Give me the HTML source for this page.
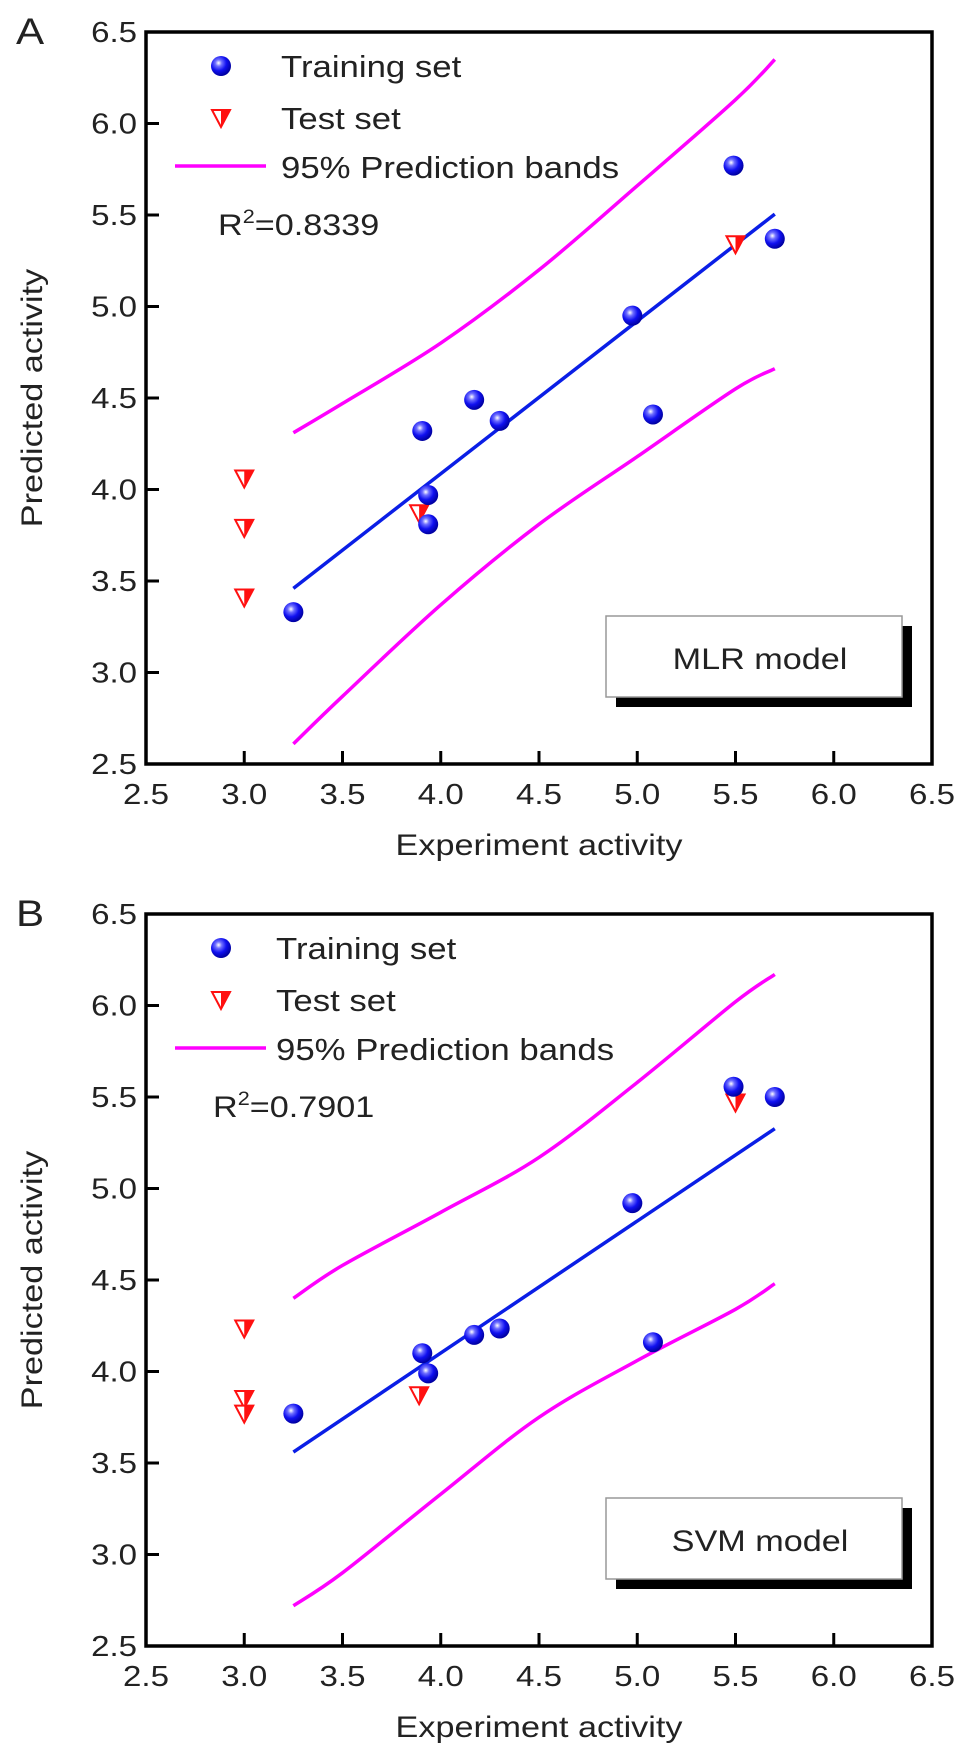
<!DOCTYPE html>
<html><head><meta charset="utf-8"><style>
html,body{margin:0;padding:0;background:#fff;}
svg{display:block;font-family:"Liberation Sans",Arial,sans-serif;}
</style></head><body>
<svg id="chart" width="969" height="1754" viewBox="0 0 969 1754" xmlns="http://www.w3.org/2000/svg">
<defs>
<radialGradient id="sph" cx="0.38" cy="0.35" r="0.65">
<stop offset="0" stop-color="#ffffff"/><stop offset="0.25" stop-color="#6f6fff"/><stop offset="0.6" stop-color="#1010f0"/><stop offset="1" stop-color="#0000a0"/>
</radialGradient>
</defs>
</svg>
<script>
// ---- data ----
const xTicks = [2.5,3.0,3.5,4.0,4.5,5.0,5.5,6.0,6.5];
const yTicks = [2.5,3.0,3.5,4.0,4.5,5.0,5.5,6.0,6.5];
const tickLabels = ["2.5","3.0","3.5","4.0","4.5","5.0","5.5","6.0","6.5"];

const aTrainX = [3.25,3.906,3.936,3.936,4.17,4.30,4.975,5.08,5.49,5.70];
const aTrainY = [3.33,4.32,3.97,3.81,4.49,4.375,4.95,4.41,5.77,5.37];
const aTestX = [3.0,3.0,3.0,3.89,5.5];
const aTestY = [4.06,3.79,3.41,3.87,5.34];
const aFitX = [3.25,5.70];
const aFitY = [3.46,5.505];
const aBandX = [3.25,3.5,4.0,4.5,5.0,5.5,5.7];
const aUpperY = [4.31,4.47,4.80,5.20,5.66,6.13,6.35];
const aLowerY = [2.61,2.87,3.37,3.81,4.18,4.55,4.66];

const bTrainX = [3.25,3.906,3.936,4.17,4.30,4.975,5.08,5.49,5.70];
const bTrainY = [3.77,4.10,3.99,4.20,4.235,4.92,4.16,5.556,5.50];
const bTestX = [3.0,3.0,3.0,3.89,5.5];
const bTestY = [4.235,3.85,3.77,3.87,5.47];
const bFitX = [3.25,5.70];
const bFitY = [3.56,5.327];
const bBandX = [3.25,3.5,4.0,4.5,5.0,5.5,5.7];
const bUpperY = [4.40,4.58,4.87,5.17,5.58,6.02,6.17];
const bLowerY = [2.72,2.90,3.33,3.75,4.06,4.34,4.48];

// ---- drawing ----
const NS = "http://www.w3.org/2000/svg";
const svg = document.getElementById("chart");
const SX = 1.14;
function mk(tag, attrs, parent, text){
  const e = document.createElementNS(NS, tag);
  for (const k in attrs) e.setAttribute(k, attrs[k]);
  if (text !== undefined) e.textContent = text;
  (parent||svg).appendChild(e);
  return e;
}
function txt(x, y, size, anchor, parent, text, rot){
  const tf = rot ? `translate(${x},${y}) rotate(-90) scale(${SX},1)` : `translate(${x},${y}) scale(${SX},1)`;
  return mk("text", {x:0, y:0, "font-size":size, "text-anchor":anchor, fill:"#222", transform:tf}, parent, text);
}
function smooth(pts){
  let d = `M${pts[0][0]},${pts[0][1]}`;
  for (let i=0;i<pts.length-1;i++){
    const p0 = pts[Math.max(i-1,0)], p1 = pts[i], p2 = pts[i+1], p3 = pts[Math.min(i+2,pts.length-1)];
    const c1x = p1[0]+(p2[0]-p0[0])/6, c1y = p1[1]+(p2[1]-p0[1])/6;
    const c2x = p2[0]-(p3[0]-p1[0])/6, c2y = p2[1]-(p3[1]-p1[1])/6;
    d += ` C${c1x.toFixed(1)},${c1y.toFixed(1)} ${c2x.toFixed(1)},${c2y.toFixed(1)} ${p2[0].toFixed(1)},${p2[1].toFixed(1)}`;
  }
  return d;
}
const L = 146, R = 932, PH = 732;
function xs(v){ return L + (v-2.5)*(R-L)/4; }

function panel(cfg){
  const top = cfg.top;
  const ys = v => top + (6.5-v)*PH/4;
  const g = mk("g", {});
  
  

  const letter = txt(16, top+12, 37, "start", g, cfg.letter);
  
  

  [cfg.upper, cfg.lower].forEach((arr, i) => {
    const pts = cfg.bandX.map((x,j) => [xs(x), ys(arr[j])]);
    const pl = mk("path", {d:smooth(pts), fill:"none", stroke:"#ff00ff", "stroke-width":3.5}, g);
    
    
  });
  const fit = mk("line", {x1:xs(cfg.fitX[0]), y1:ys(cfg.fitY[0]), x2:xs(cfg.fitX[1]), y2:ys(cfg.fitY[1]), stroke:"#0a1ee6", "stroke-width":3.5}, g);
  
  

  function tri(cx, cy, parent){
    const t = mk("g", {}, parent);
    mk("polygon", {points:`${cx-9},${cy-8} ${cx+9},${cy-8} ${cx},${cy+9}`, fill:"#fff", stroke:"#ff1010", "stroke-width":2}, t);
    mk("polygon", {points:`${cx},${cy-8} ${cx+9},${cy-8} ${cx},${cy+9}`, fill:"#ff1010"}, t);
    return t;
  }
  cfg.testX.forEach((x,i) => {
    const t = tri(xs(x), ys(cfg.testY[i]), g);
    
    
  });
  cfg.trainX.forEach((x,i) => {
    const c = mk("circle", {cx:xs(x), cy:ys(cfg.trainY[i]), r:10, fill:"url(#sph)"}, g);
    
    
  });

  const frame = mk("rect", {x:L, y:top, width:R-L, height:PH, fill:"none", stroke:"#000", "stroke-width":3.5}, g);
  
  

  xTicks.forEach((v,i) => {
    if (i>0 && i<xTicks.length-1) mk("line", {x1:xs(v), y1:top+PH, x2:xs(v), y2:top+PH-13, stroke:"#000", "stroke-width":3}, g);
    const t = txt(xs(v), top+PH+40, 29, "middle", g, tickLabels[i]);
    
    
  });
  yTicks.forEach((v,i) => {
    if (i>0 && i<yTicks.length-1) mk("line", {x1:L, y1:ys(v), x2:L+13, y2:ys(v), stroke:"#000", "stroke-width":3}, g);
    const t = txt(137, ys(v)+10, 29, "end", g, tickLabels[i]);
    
    
  });

  const xt = txt(539, top+PH+91, 30, "middle", g, "Experiment activity");
  
  
  const yt = txt(42, top+PH/2, 30, "middle", g, "Predicted activity", true);
  
  

  const lg = mk("g", {}, g);
  
  
  const lc = mk("circle", {cx:221, cy:top+34, r:10, fill:"url(#sph)"}, lg);
  
  
  const lt1 = txt(cfg.legX, top+45, 30.5, "start", lg, "Training set");
  
  
  const ltri = tri(221, top+86, lg);
  
  
  const lt2 = txt(cfg.legX, top+97, 30.5, "start", lg, "Test set");
  
  
  const ll = mk("line", {x1:175, y1:top+134, x2:266, y2:top+134, stroke:"#ff00ff", "stroke-width":3.5}, lg);
  
  
  const lt3 = txt(cfg.legX, top+146, 30.5, "start", lg, "95% Prediction bands");
  
  

  const r2 = mk("text", {x:0, y:0, "font-size":30, fill:"#222", transform:`translate(${cfg.legX-63},${top+203}) scale(${SX},1)`}, g);
  
  
  mk("tspan", {}, r2, "R");
  mk("tspan", {dy:-12, "font-size":19}, r2, "2");
  mk("tspan", {dy:12}, r2, "=" + cfg.r2);

  const mb = mk("g", {}, g);
  
  
  mk("rect", {x:616, y:top+594, width:296, height:81, fill:"#000"}, mb);
  mk("rect", {x:606, y:top+584, width:296, height:81, fill:"#fff", stroke:"#999", "stroke-width":1.5}, mb);
  txt(760, top+637, 30, "middle", mb, cfg.model);
}

panel({name:"panel-a-mlr", letter:"A", top:32, trainX:aTrainX, trainY:aTrainY, testX:aTestX, testY:aTestY,
  fitX:aFitX, fitY:aFitY, bandX:aBandX, upper:aUpperY, lower:aLowerY, r2:"0.8339", model:"MLR model", legX:281});
panel({name:"panel-b-svm", letter:"B", top:914, trainX:bTrainX, trainY:bTrainY, testX:bTestX, testY:bTestY,
  fitX:bFitX, fitY:bFitY, bandX:bBandX, upper:bUpperY, lower:bLowerY, r2:"0.7901", model:"SVM model", legX:276});
</script>
</body></html>
